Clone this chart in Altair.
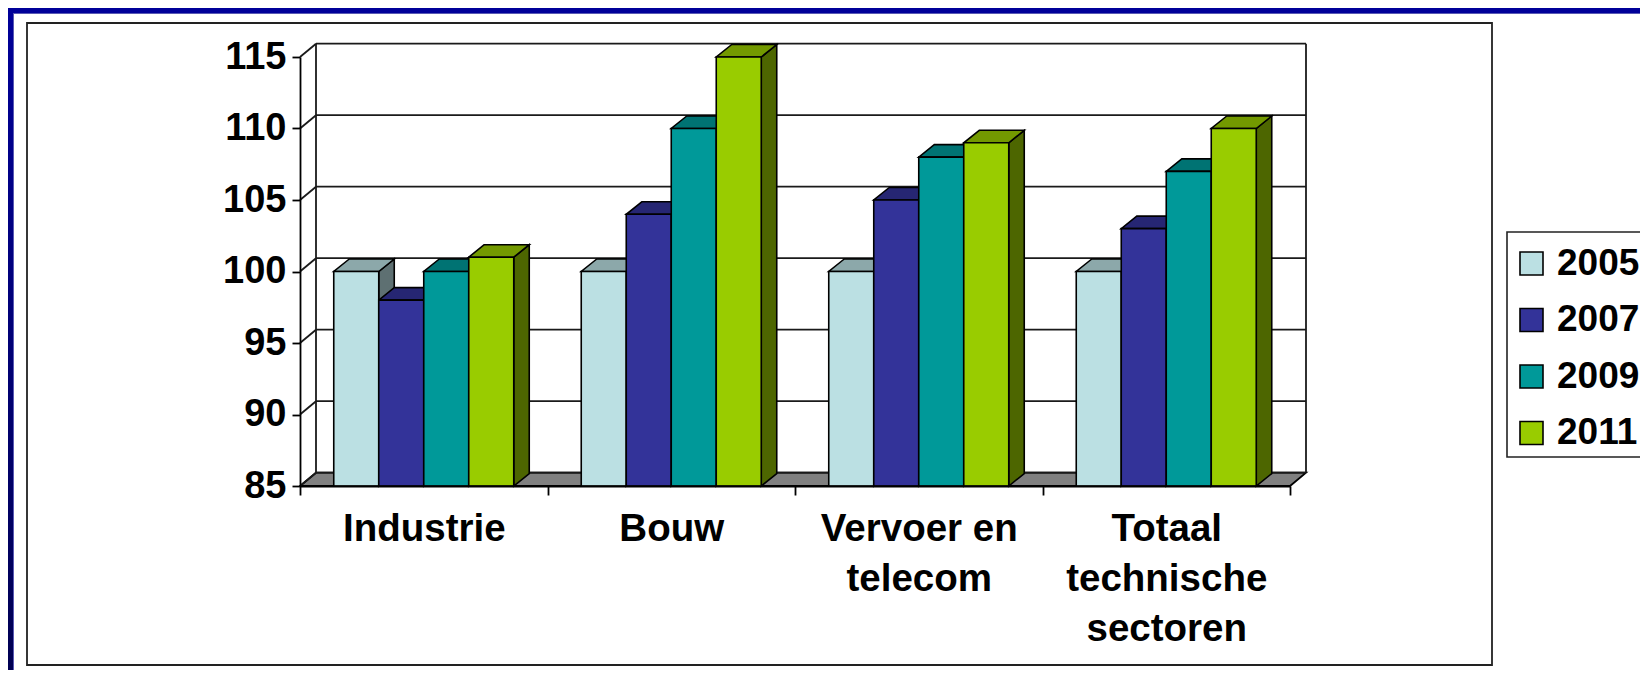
import altair as alt
import pandas as pd

categories = ["Industrie", "Bouw", "Vervoer en\ntelecom", "Totaal\ntechnische\nsectoren"]
years = ["2005", "2007", "2009", "2011"]
values_2005 = [100, 100, 100, 100]
values_2007 = [98, 104, 105, 103]
values_2009 = [100, 110, 108, 107]
values_2011 = [101, 115, 109, 110]
y_ticks = [85, 90, 95, 100, 105, 110, 115]

front_colors = ["#BBE0E3", "#333399", "#009999", "#99CC00"]
top_colors = ["#8CA8AA", "#262673", "#007373", "#739900"]
side_colors = ["#5E7072", "#1A1A4D", "#004D4D", "#4D6600"]

series = [values_2005, values_2007, values_2009, values_2011]
FONT = "Liberation Sans"
W, H = 990, 429
BASE = 85
N = len(categories)
BAR_W = 1 / 5.5
GAP = 0.75 * BAR_W
WALL_DX, WALL_DY = 16 / (W / N), 13.3 / (H / 30)
BAR_DX, BAR_DY = 15.5 / (W / N), 12.5 / (H / 30)

fronts, tops, sides = [], [], []
for c in range(N):
    for s, vals in enumerate(series):
        v = vals[c]
        x0 = c + GAP + s * BAR_W
        x1 = x0 + BAR_W
        key = f"{c}-{s}"
        fronts.append(dict(x=x0, x2=x1, y=v, y2=BASE, year=years[s]))
        tops.append(dict(k=key, y=v, x=x0, x2=x1, c=top_colors[s]))
        tops.append(dict(k=key, y=v + BAR_DY, x=x0 + BAR_DX, x2=x1 + BAR_DX, c=top_colors[s]))
        sides.append(dict(k=key, x=x1, y=v, y2=BASE, c=side_colors[s]))
        sides.append(dict(k=key, x=x1 + BAR_DX, y=v + BAR_DY, y2=BASE + BAR_DY, c=side_colors[s]))

lines = []
for t in y_ticks:
    lines.append(dict(x=WALL_DX, x2=N + WALL_DX, y=t + WALL_DY, y2=t + WALL_DY))
    lines.append(dict(x=0, x2=WALL_DX, y=t, y2=t + WALL_DY))
lines.append(dict(x=WALL_DX, x2=WALL_DX, y=BASE + WALL_DY, y2=115 + WALL_DY))
lines.append(dict(x=N + WALL_DX, x2=N + WALL_DX, y=BASE + WALL_DY, y2=115 + WALL_DY))
floor = [dict(y=BASE, x=0, x2=N), dict(y=BASE + WALL_DY, x=WALL_DX, x2=N + WALL_DX)]

xq = alt.X("x:Q", scale=alt.Scale(domain=[0, N], nice=False), axis=None)
yq = alt.Y("y:Q", scale=alt.Scale(domain=[85, 115], nice=False, zero=False),
           axis=alt.Axis(values=y_ticks, title=None, grid=False, labelFont=FONT, labelFontSize=38,
                         labelFontWeight="bold", labelColor="black", labelPadding=6, tickSize=8,
                         tickColor="black", tickWidth=1.8, domainColor="black", domainWidth=1.8,
                         format="d", zindex=1))
one = alt.Data(values=[{}])


def box(x, x2, y, y2, **kw):
    return alt.Chart(one).mark_rect(**kw).encode(
        x=alt.value(x - 300), x2=alt.value(x2 - 300), y=alt.value(y - 57), y2=alt.value(y2 - 57))


page_left = box(8, 13, 8, 677, color=alt.LinearGradient(
    gradient="linear", x1=0, y1=0, x2=0, y2=1,
    stops=[alt.GradientStop(offset=0, color="#000099"), alt.GradientStop(offset=1, color="#000052")]))
page_top = box(8, 1648, 8, 13, color="#000099")
edge_left = box(13, 14, 13, 677, color="#5A5AB4")
edge_top = box(13, 1648, 13, 14, color="#5A5AB4")
frame = box(27, 1492, 23, 665, fill="white", stroke="#222222", strokeWidth=1.8)
legend_box = box(1507, 1660, 232, 457, fill="white", stroke="#222222", strokeWidth=1.6)

floor_layer = alt.Chart(pd.DataFrame(floor)).mark_area(
    orient="horizontal", fill="#808080", stroke="black", strokeWidth=1.8
).encode(x=xq, x2="x2:Q", y=yq)

rules = alt.Chart(pd.DataFrame(lines)).mark_rule(color="#1a1a1a", strokeWidth=1.8).encode(
    x=xq, x2="x2:Q", y=yq, y2="y2:Q")

side_layer = alt.Chart(pd.DataFrame(sides)).mark_area(
    orient="vertical", stroke="black", strokeWidth=1.6
).encode(x=xq, y=yq, y2="y2:Q", detail="k:N", fill=alt.Fill("c:N", scale=None))

top_layer = alt.Chart(pd.DataFrame(tops)).mark_area(
    orient="horizontal", stroke="black", strokeWidth=1.6
).encode(x=xq, x2="x2:Q", y=yq, detail="k:N", fill=alt.Fill("c:N", scale=None))

front_layer = alt.Chart(pd.DataFrame(fronts)).mark_bar(stroke="black", strokeWidth=1.6).encode(
    x=xq, x2="x2:Q", y=yq, y2="y2:Q",
    fill=alt.Fill("year:N", scale=alt.Scale(domain=years, range=front_colors),
                  legend=alt.Legend(title=None, orient="none", legendX=1200, legendY=175,
                                    symbolType="square", symbolSize=529, symbolStrokeColor="black",
                                    symbolStrokeWidth=1.6, symbolOpacity=1, labelFont=FONT, labelFontSize=37,
                                    labelFontWeight="bold", labelColor="black", labelOffset=7,
                                    rowPadding=18.5, padding=13)))

x_axis_layer = alt.Chart(pd.DataFrame({"cat": categories})).mark_rule(opacity=0).encode(
    x=alt.X("cat:N", sort=None, scale=alt.Scale(paddingInner=0, paddingOuter=0),
            axis=alt.Axis(title=None, tickBand="extent", labelAngle=0, labelFont=FONT, labelFontSize=38.5,
                          labelFontWeight="bold", labelColor="black", labelPadding=15.5, labelLineHeight=50,
                          labelExpr="split(datum.label, '\\n')", labelLimit=0, tickSize=9, tickColor="black",
                          tickWidth=1.8, domainColor="black", domainWidth=1.8, zindex=1)))

chart = alt.layer(
    page_left, page_top, edge_left, edge_top, frame, legend_box,
    floor_layer, rules, side_layer, top_layer, front_layer, x_axis_layer
).resolve_scale(x="independent", fill="independent").properties(
    width=W, height=H,
    padding={"left": 292, "top": 49, "right": 350, "bottom": 184},
    autosize=alt.AutoSizeParams(type="none"),
    background="white",
).configure_view(stroke=None)

chart.save("out.html", embed_options={"renderer": "svg", "actions": False})
